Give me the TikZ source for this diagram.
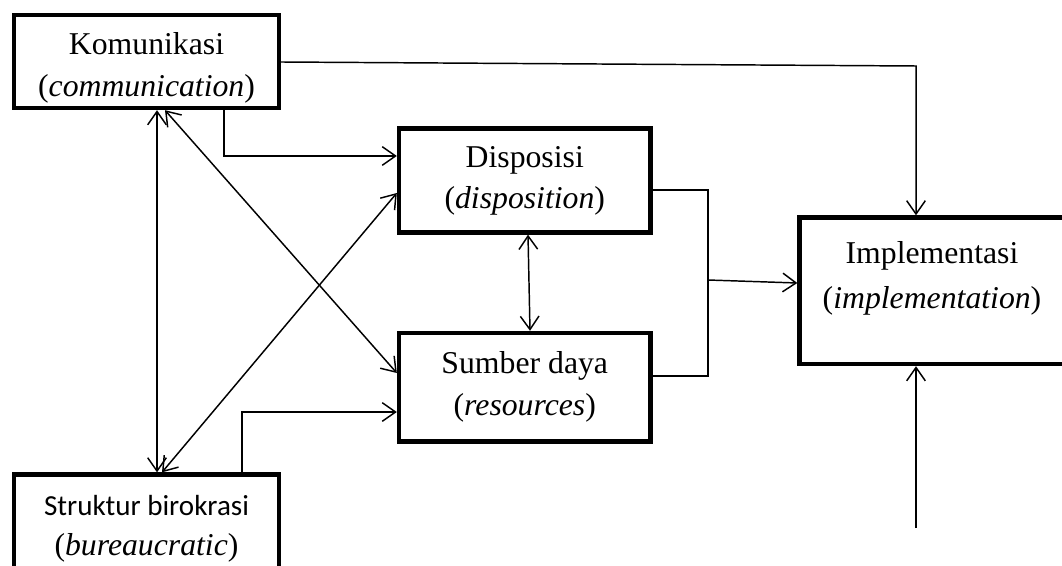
\documentclass[tikz,border=0pt]{standalone}
\usepackage{fontspec}
\setmainfont{Liberation Serif}
\newfontfamily\calfont{Carlito}
\usetikzlibrary{arrows.meta}
\tikzset{
  box/.style={draw, line width=3.3pt, rectangle, inner sep=0pt},
  txt/.style={anchor=base, inner sep=0pt, font=\fontsize{23.8pt}{28pt}\selectfont},
  sbtxt/.style={anchor=base, inner sep=0pt, font=\calfont\fontsize{21.8pt}{26pt}\selectfont},
  conn/.style={line width=1.1pt},
  arr/.style={conn, -{Straight Barb[length=10pt,width=14pt]}},
  darr/.style={conn, {Straight Barb[length=10pt,width=14pt]}-{Straight Barb[length=10pt,width=14pt]}}
}
\begin{document}
\begin{tikzpicture}[x=0.75pt,y=-0.75pt]
\useasboundingbox (0,0) rectangle (1062,566);
% boxes
\node[box, minimum width=198.75pt, minimum height=69.75pt] (kom) at (146.5,61.5) {};
\node[box, minimum width=188.6pt, minimum height=78pt] (disp) at (524.75,180.5) {};
\node[box, minimum width=188.6pt, minimum height=81.4pt] (sd) at (524.75,387.25) {};
\node[box, minimum width=199.1pt, minimum height=109.9pt] (impl) at (932.25,290.75) {};
\node[box, minimum width=198.75pt, minimum height=73.1pt] (sb) at (146.5,523.25) {};
% texts
\node[txt] (komt1) at (146.5,55) {Komunikasi};
\node[txt] (komt2) at (146.5,97) {(\textit{communication})};
\node[txt] (dispt1) at (524.75,168) {Disposisi};
\node[txt] (dispt2) at (524.75,209) {(\textit{disposition})};
\node[txt] (sdt1) at (524.75,373) {Sumber daya};
\node[txt] (sdt2) at (524.75,415) {(\textit{resources})};
\node[txt] (implt1) at (932,264) {Implementasi};
\node[txt] (implt2) at (932,308) {(\textit{implementation})};
\node[sbtxt] (sbt1) at (146.5,515) {Struktur birokrasi};
\node[txt] (sbt2) at (146.5,555) {(\textit{bureaucratic})};
% helper coordinates
\coordinate (c1) at (916,66);
\coordinate (j) at (708,280);
\coordinate (bot) at (916,528);
% connectors
\draw[arr] (kom.east |- 0,62) -- (c1) -- (impl.north -| c1);
\draw[arr] (kom.south -| 224,0) -- (224,156) -- (disp.west |- 0,156);
\draw[arr] (sb.north -| 242,0) -- (242,412) -- (sd.west |- 0,412);
\draw[darr] (kom.south -| 157,0) -- (sb.north -| 157,0);
\draw[darr] (kom.south -| 165,0) -- (sd.west |- 0,373);
\draw[darr] (sb.north -| 162,0) -- (disp.west |- 0,193);
\draw[darr] (disp.south -| 528,0) -- (sd.north -| 530,0);
\draw[conn] (disp.east |- 0,190) -- (708,190) -- (708,376) -- (sd.east |- 0,376);
\draw[arr] (j) -- (impl.west |- 0,283);
\draw[arr] (bot) -- (impl.south -| bot);
\end{tikzpicture}
\end{document}
